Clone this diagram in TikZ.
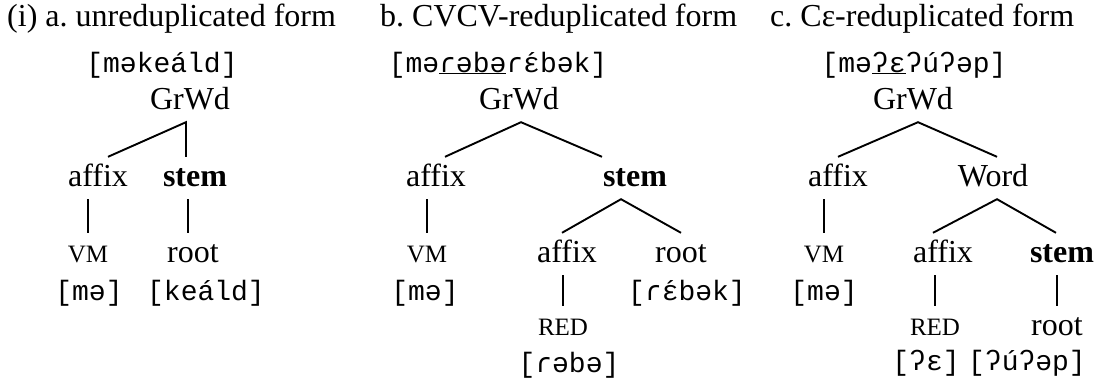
\documentclass[tikz,border=0pt]{standalone}
\usepackage{fontspec}
\setmainfont{Liberation Serif}
\newfontfamily\ipafont{Liberation Mono}
\newcommand{\epsacute}{ɛ\llap{´}}
\begin{document}
\begin{tikzpicture}[x=1pt,y=-1pt,
  lv/.style={inner xsep=0pt, inner ysep=7pt, text height=22pt, text depth=6pt, anchor=base, font=\fontsize{32}{36}\selectfont},
  sm/.style={lv, font=\fontsize{25}{30}\selectfont},
  bld/.style={lv, font=\fontsize{32}{36}\selectfont\bfseries},
  ipa/.style={inner sep=0pt, anchor=base, font=\ipafont\fontsize{28}{32}\selectfont},
  ttl/.style={inner sep=0pt, anchor=base west, font=\fontsize{32}{36}\selectfont\frenchspacing},
  ln/.style={line width=1.9pt}]
\useasboundingbox (0,0) rectangle (1104,380);
% ---------- titles
\node[ttl] (ta) at (7,27) {(i) a. unreduplicated form};
\node[ttl] (tb) at (380,27) {b. CVCV-reduplicated form};
\node[ttl] (tc) at (770,27) {c. Cε-reduplicated form};
% ---------- tree a
\node[ipa] (aform) at (162,72) {[məkeáld]};
\node[lv] (aG) at (190,109) {GrWd};
\node[lv] (aaf) at (98,186) {affix};
\node[bld] (ast) at (195,186) {stem};
\node[sm] (avm) at (88,262) {VM};
\node[lv] (art) at (193,262) {root};
\node[ipa] (ame) at (89,300) {[mə]};
\node[ipa] (akeald) at (206,300) {[keáld]};
\draw[ln] ([xshift=10pt]aaf.north) -- ([xshift=-4pt]aG.south) -- ([xshift=-4pt]aG.south |- aaf.north);
\draw[ln] (aaf.south -| avm.north) -- (avm.north);
\draw[ln] ([xshift=-7pt]ast.south) -- ([xshift=-7pt]ast.south |- art.north);
% ---------- tree b
\node[ipa] (bform) at (498,72) {[mə\underline{ɾəbə}ɾ\epsacute bək]};
\node[lv] (bG) at (519,109) {GrWd};
\node[lv] (baf) at (436,186) {affix};
\node[bld] (bst) at (635,186) {stem};
\node[sm] (bvm) at (427,262) {VM};
\node[ipa] (bme) at (425,300) {[mə]};
\node[lv] (baf2) at (567,262) {affix};
\node[lv] (brt) at (681,262) {root};
\node[ipa] (brebek) at (687,300) {[ɾ\epsacute bək]};
\node[sm] (bred) at (563,335) {RED};
\node[ipa] (brebe) at (569,372) {[ɾəbə]};
\draw[ln] ([xshift=9pt]baf.north) -- ([xshift=2pt]bG.south) -- ([xshift=-33pt]bst.north);
\draw[ln] (baf.south -| bvm.north) -- (bvm.north);
\draw[ln] ([xshift=-5pt]baf2.north) -- ([xshift=-14pt]bst.south) -- (brt.north);
\draw[ln] (baf2.south -| bred.north) -- (bred.north);
% ---------- tree c
\node[ipa] (cform) at (914,72) {[mə\underline{ʔɛ}ʔúʔəp]};
\node[lv] (cG) at (913,109) {GrWd};
\node[lv] (caf) at (838,186) {affix};
\node[lv] (cwd) at (993,186) {Word};
\node[sm] (cvm) at (824,262) {VM};
\node[ipa] (cme) at (824,300) {[mə]};
\node[lv] (caf2) at (943,262) {affix};
\node[bld] (cst) at (1062,262) {stem};
\node[sm] (cred) at (935,335) {RED};
\node[lv] (crt) at (1057,335) {root};
\node[ipa] (ce) at (926,370) {[ʔɛ]};
\node[ipa] (cup) at (1027,370) {[ʔúʔəp]};
\draw[ln] (caf.north) -- ([xshift=5pt]cG.south) -- ([xshift=4pt]cwd.north);
\draw[ln] (caf.south -| cvm.north) -- (cvm.north);
\draw[ln] ([xshift=-10pt]caf2.north) -- ([xshift=4pt]cwd.south) -- ([xshift=-6pt]cst.north);
\draw[ln] (caf2.south -| cred.north) -- (cred.north);
\draw[ln] (cst.south -| crt.north) -- (crt.north);
\end{tikzpicture}
\end{document}
